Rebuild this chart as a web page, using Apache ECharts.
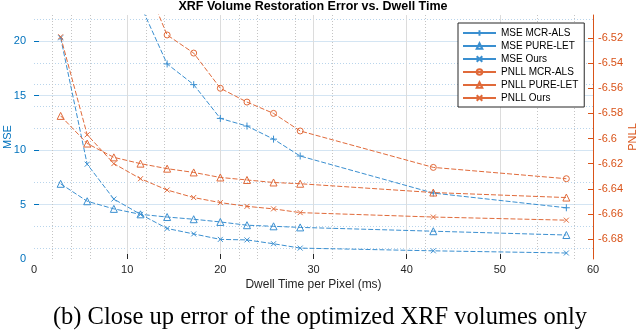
<!DOCTYPE html>
<html>
<head>
<meta charset="UTF-8">
<title>XRF Volume Restoration Error vs. Dwell Time</title>
<script src="https://cdn.jsdelivr.net/npm/echarts@6/dist/echarts.min.js"></script>
<style>
  html, body { margin: 0; padding: 0; background: #fff; }
  #main { width: 640px; height: 335px; }
</style>
</head>
<body>
<div id="main"></div>
<script type="text/javascript">
// dwell time per pixel (ms)
var dwellTimes = [2.86, 5.71, 8.57, 11.43, 14.29, 17.14, 20, 22.86, 25.71, 28.57, 42.86, 57.14];

// MSE (left axis), null = above the plotted range
var mseMcrAls  = [null, null, null, 23.3, 17.9, 16.0, 12.9, 12.2, 11.0, 9.45, 6.05, 4.7];
var msePureLet = [6.9, 5.3, 4.6, 4.1, 3.85, 3.65, 3.4, 3.1, 3.0, 2.9, 2.55, 2.2];
var mseOurs    = [20.3, 8.7, 5.5, 4.1, 2.8, 2.3, 1.8, 1.75, 1.4, 1.0, 0.75, 0.55];

// PNLL (right axis)
var pnllMcrAls  = [null, null, null, -6.467, -6.5176, -6.532, -6.560, -6.571, -6.580, -6.594, -6.623, -6.632];
var pnllPureLet = [-6.582, -6.604, -6.615, -6.620, -6.624, -6.627, -6.631, -6.633, -6.635, -6.636, -6.643, -6.647];
var pnllOurs    = [-6.519, -6.597, -6.620, -6.632, -6.641, -6.647, -6.651, -6.654, -6.656, -6.659, -6.6625, -6.665];

// tick labels
var xTicks = [0, 10, 20, 30, 40, 50, 60];
var mseTicks = [0, 5, 10, 15, 20];
var pnllTicks = [-6.68, -6.66, -6.64, -6.62, -6.6, -6.58, -6.56, -6.54, -6.52];

// minor grid lines that survive in the picture
var xMinorGrid = [2, 4, 6, 12, 14, 22, 24, 28, 32, 42, 54, 58];
var mseMinorGrid = [1, 3, 7, 12, 14, 16, 18, 22];

var BLUE = '#0072BD';
var ORANGE = '#D95319';
var BLUE_LINE = '#3a8fd0';
var ORANGE_LINE = '#e06a3a';
var FONT = '"Liberation Sans", Arial, Helvetica, sans-serif';

var PLUS = 'path://M0,5L10,5M5,0L5,10';
var CROSS = 'path://M0,0L10,10M10,0L0,10';
var TRI = 'path://M5,0L10,9L0,9Z';

function pairs(ys) {
  return dwellTimes.map(function (x, i) { return [x, ys[i]]; });
}

function mkSeries(name, ys, axis, color, symbol, size) {
  return {
    name: name,
    type: 'line',
    yAxisIndex: axis,
    data: pairs(ys),
    symbol: symbol,
    symbolSize: size,
    showAllSymbol: true,
    clip: true,
    lineStyle: { color: color, width: 1, type: [5, 2] },
    itemStyle: { color: 'rgba(255,255,255,0)', borderColor: color, borderWidth: 1 },
    emphasis: { disabled: true },
    z: 3
  };
}

var chart = echarts.init(document.getElementById('main'), null, { renderer: 'canvas' });

var option = {
  animation: false,
  textStyle: { fontFamily: FONT },
  title: {
    text: 'XRF Volume Restoration Error vs. Dwell Time',
    left: 313,
    top: 0,
    padding: 0,
    textAlign: 'center',
    textStyle: { fontSize: 12.5, fontWeight: 'bold', color: '#000', fontFamily: FONT }
  },
  grid: { left: 34, right: 47, top: 15, bottom: 76, outerBoundsMode: 'none', containLabel: false },
  legend: {
    orient: 'vertical',
    left: 458,
    top: 23,
    itemWidth: 33,
    itemHeight: 7,
    itemGap: 3,
    padding: [5, 6, 4, 4],
    backgroundColor: '#fff',
    borderColor: '#262626',
    borderWidth: 1,
    lineStyle: { type: 'solid' },
    textStyle: { fontSize: 10, lineHeight: 10, color: '#000', fontFamily: FONT },
    data: ['MSE MCR-ALS', 'MSE PURE-LET', 'MSE Ours', 'PNLL MCR-ALS', 'PNLL PURE-LET', 'PNLL Ours']
  },
  xAxis: [
    {
      type: 'value',
      min: 0,
      max: 60,
      name: 'Dwell Time per Pixel (ms)',
      nameLocation: 'middle',
      nameGap: 20,
      nameMoveOverlap: false,
      nameTextStyle: { fontSize: 12, color: '#262626' },
      axisLine: { show: false, onZero: false },
      axisTick: { inside: true, length: 5, lineStyle: { color: '#262626' }, customValues: [10, 20, 30, 40, 50] },
      axisLabel: { fontSize: 11, color: '#262626', margin: 5, customValues: xTicks },
      splitLine: { show: true, lineStyle: { color: '#dcdcdc', width: 1 } }
    },
    {
      type: 'value',
      min: 0,
      max: 60,
      position: 'bottom',
      axisLine: { show: false, onZero: false },
      axisTick: { show: false, customValues: xMinorGrid },
      axisLabel: { show: false },
      splitLine: { show: true, lineStyle: { color: '#c4c4c4', width: 1, type: [1, 2] } }
    }
  ],
  yAxis: [
    {
      type: 'value',
      min: 0,
      max: 22.39,
      position: 'left',
      name: 'MSE',
      nameLocation: 'middle',
      nameRotate: 90,
      nameGap: 21,
      nameMoveOverlap: false,
      nameTextStyle: { fontSize: 11, color: BLUE },
      axisLine: { show: false, onZero: false },
      axisTick: { inside: true, length: 5, lineStyle: { color: BLUE }, customValues: [5, 10, 15, 20] },
      axisLabel: { fontSize: 11, color: BLUE, margin: 8, customValues: mseTicks },
      splitLine: { show: true, lineStyle: { color: '#d4e5f3', width: 1 } }
    },
    {
      type: 'value',
      min: -6.6959,
      max: -6.5017,
      position: 'right',
      name: 'PNLL',
      nameLocation: 'middle',
      nameRotate: 90,
      nameGap: 34,
      nameMoveOverlap: false,
      nameTextStyle: { fontSize: 11, color: ORANGE },
      axisLine: { show: true, onZero: false, lineStyle: { color: ORANGE, width: 1 } },
      axisTick: { inside: true, length: 5, lineStyle: { color: ORANGE }, customValues: pnllTicks },
      axisLabel: { fontSize: 11, color: ORANGE, margin: 5, customValues: pnllTicks },
      splitLine: { show: false }
    },
    {
      type: 'value',
      min: 0,
      max: 22.39,
      position: 'left',
      axisLine: { show: false, onZero: false },
      axisTick: { show: false, customValues: mseMinorGrid },
      axisLabel: { show: false },
      splitLine: { show: true, lineStyle: { color: '#b9d5ec', width: 1, type: [1, 2] } }
    }
  ],
  series: [
    mkSeries('MSE MCR-ALS', mseMcrAls, 0, BLUE_LINE, PLUS, 7),
    mkSeries('MSE PURE-LET', msePureLet, 0, BLUE_LINE, TRI, 7),
    mkSeries('MSE Ours', mseOurs, 0, BLUE_LINE, CROSS, 5),
    mkSeries('PNLL MCR-ALS', pnllMcrAls, 1, ORANGE_LINE, 'circle', 6),
    mkSeries('PNLL PURE-LET', pnllPureLet, 1, ORANGE_LINE, TRI, 7),
    mkSeries('PNLL Ours', pnllOurs, 1, ORANGE_LINE, CROSS, 5)
  ],
  graphic: [
    {
      type: 'text',
      left: 'center',
      top: 305,
      style: {
        text: '(b) Close up error of the optimized XRF volumes only',
        font: '24.5px "Liberation Serif", "Times New Roman", serif',
        fill: '#000'
      }
    }
  ]
};

chart.setOption(option);
</script>
</body>
</html>
